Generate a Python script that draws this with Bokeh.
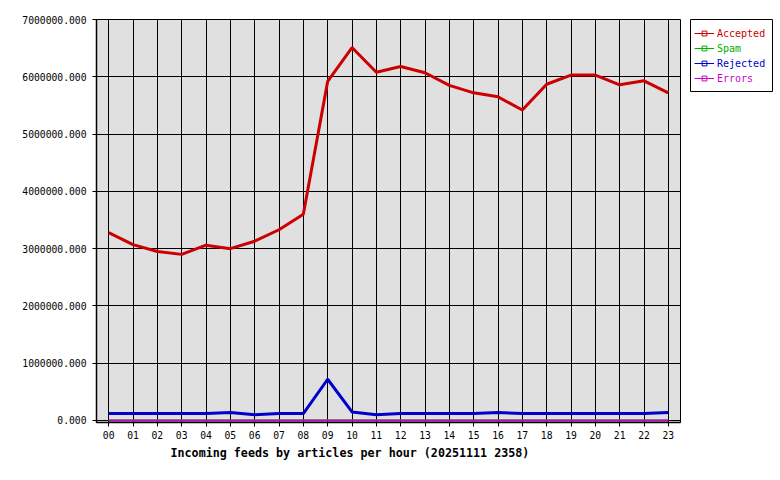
from bokeh.plotting import figure
from bokeh.layouts import row
from bokeh.models import (Legend, LegendItem, FixedTicker, PrintfTickFormatter,
                          Range1d, ColumnDataSource, Title)
from bokeh.embed import file_html
from bokeh.resources import INLINE

hours = [0, 1, 2, 3, 4, 5, 6, 7, 8, 9, 10, 11, 12, 13, 14, 15, 16, 17, 18, 19, 20, 21, 22, 23]
hour_labels = ["00", "01", "02", "03", "04", "05", "06", "07", "08", "09", "10", "11",
               "12", "13", "14", "15", "16", "17", "18", "19", "20", "21", "22", "23"]
accepted = [3280000, 3070000, 2950000, 2900000, 3060000, 3000000, 3130000, 3330000,
            3600000, 5920000, 6510000, 6080000, 6180000, 6070000, 5850000, 5720000,
            5650000, 5420000, 5870000, 6030000, 6030000, 5860000, 5930000, 5720000]
spam = [0, 0, 0, 0, 0, 0, 0, 0, 0, 0, 0, 0, 0, 0, 0, 0, 0, 0, 0, 0, 0, 0, 0, 0]
rejected = [120000, 120000, 120000, 120000, 120000, 140000, 100000, 120000,
            120000, 720000, 150000, 100000, 120000, 120000, 120000, 120000,
            140000, 120000, 120000, 120000, 120000, 120000, 120000, 140000]
errors = [0, 0, 0, 0, 0, 0, 0, 0, 0, 0, 0, 0, 0, 0, 0, 0, 0, 0, 0, 0, 0, 0, 0, 0]
y_ticks = [0, 1000000, 2000000, 3000000, 4000000, 5000000, 6000000, 7000000]
series_names = ["Accepted", "Spam", "Rejected", "Errors"]
series_colors = ["#cc0000", "#00b000", "#0000cc", "#cc00cc"]
series_widths = [3, 2, 3, 2]
xlabel = "Incoming feeds by articles per hour (20251111 2358)"

MONO = "DejaVu Sans Mono"

p = figure(frame_width=584, frame_height=403,
           min_border_left=96, min_border_top=19, min_border_right=10, min_border_bottom=50,
           x_range=Range1d(-0.5, 23.5), y_range=Range1d(-35000, 7000000),
           output_backend="svg", toolbar_location=None)
p.background_fill_color = "#e0e0e0"
p.border_fill_color = "white"
p.outline_line_color = "black"
p.outline_line_width = 1

p.xaxis.ticker = FixedTicker(ticks=hours)
p.xaxis.major_label_overrides = {h: lab for h, lab in zip(hours, hour_labels)}
p.yaxis.ticker = FixedTicker(ticks=y_ticks)
p.yaxis.formatter = PrintfTickFormatter(format="%.3f")
for ax in (p.xaxis, p.yaxis):
    ax.major_label_text_font = MONO
    ax.major_label_text_font_size = "9.7px"
    ax.major_label_text_color = "black"
    ax.axis_line_color = "black"
    ax.axis_line_width = 1.5
    ax.major_tick_line_color = "black"
    ax.major_tick_in = 0
    ax.major_tick_out = 4
    ax.minor_tick_line_color = None
p.xaxis.major_label_standoff = 4
p.yaxis.major_label_standoff = 6

p.xgrid.ticker = FixedTicker(ticks=hours)
p.ygrid.ticker = FixedTicker(ticks=y_ticks)
p.grid.grid_line_color = "black"
p.grid.grid_line_alpha = 1.0
p.grid.grid_line_width = 1

data = [accepted, spam, rejected, errors]
for vals, col, w in zip(data, series_colors, series_widths):
    src = ColumnDataSource(dict(x=hours, y=vals))
    p.line("x", "y", source=src, line_color=col, line_width=w)

t = Title(text=xlabel, align="left", offset=74, standoff=5, text_font=MONO,
          text_font_size="11.7px", text_font_style="bold", text_color="black")
p.add_layout(t, "below")

# legend panel: a small figure whose frame outline is the legend box
lf = figure(frame_width=82, frame_height=73,
            min_border_left=0, min_border_top=19, min_border_right=2, min_border_bottom=0,
            x_range=Range1d(0, 1), y_range=Range1d(0, 1),
            x_axis_type=None, y_axis_type=None,
            output_backend="svg", toolbar_location=None)
lf.grid.visible = False
lf.background_fill_color = "white"
lf.border_fill_color = "white"
lf.outline_line_color = "black"
lf.outline_line_width = 1

# off-range sample renderers: only used to draw the legend glyphs
for i, (name, col) in enumerate(zip(series_names, series_colors)):
    r = lf.line(x=[5, 6], y=[5, 6], line_color=col, line_width=1)
    m = lf.scatter(x=[5], y=[5], marker="square", size=3, line_color=col,
                   fill_alpha=0, line_width=1)
    lg = Legend(items=[LegendItem(label=name, renderers=[r, m])],
                location=(4, 53 - 15 * i), margin=0, padding=0, spacing=0,
                glyph_width=20, glyph_height=12, label_height=12, label_standoff=3,
                label_text_font=MONO, label_text_font_size="10px",
                label_text_color=col, border_line_alpha=0, background_fill_alpha=0)
    lf.add_layout(lg)

layout = row(p, lf)
open("out.html", "w").write(file_html(layout, INLINE))
